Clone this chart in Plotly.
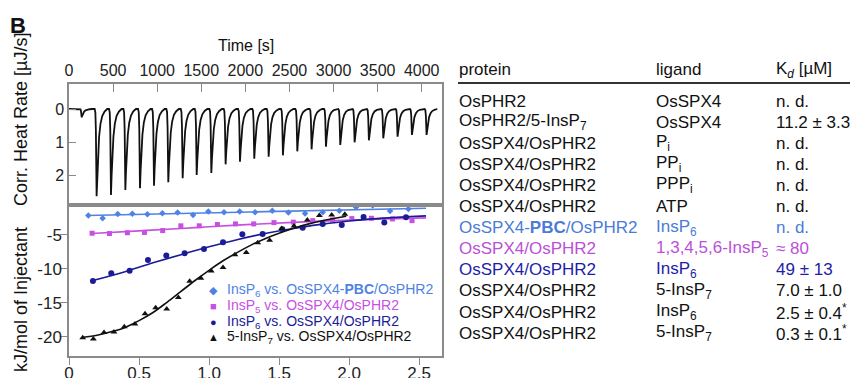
import plotly.graph_objects as go

W, H = 858, 378
OFF = 8  # page body margin offset of the figure in the browser window
def px(x):
    return (x - OFF) / W
def py(y):
    return 1 - (y - OFF) / H

FONT = "Liberation Sans, Arial, sans-serif"
LB = "#4f82e3"   # light blue
MG = "#c650e0"   # magenta
NV = "#1b1b96"   # navy
BK = "#111111"
AX = "#8a8a8a"

# ---------------- Thermogram (top panel) ----------------
inj_times = [313, 476, 639, 805, 964, 1126, 1289, 1448, 1614, 1776, 1939, 2101,
             2264, 2426, 2589, 2751, 2914, 3076, 3239, 3401, 3564, 3726, 3889, 4055]
inj_depths = [2.62, 2.58, 2.43, 2.38, 2.30, 2.20, 2.08, 1.98, 1.92, 1.66, 1.58, 1.49,
              1.43, 1.39, 1.27, 1.21, 1.13, 1.08, 1.00, 0.94, 0.88, 0.83, 0.78, 0.78]
pre_inj_time = 144
pre_inj_depth = 0.25
trace_start, trace_end = 0, 4170
time_ticks = [0, 500, 1000, 1500, 2000, 2500, 3000, 3500, 4000]
heat_ticks = [0, 1, 2]

# injection peak profile (time offset in s, fraction of peak depth)
PEAK_PROFILE = [(-22, 0.0), (-14, 0.04), (-8, 0.25), (0, 1.0), (7, 0.78), (16, 0.52),
                (28, 0.32), (44, 0.17), (64, 0.08), (90, 0.03), (120, 0.0)]

tx, ty = [trace_start], [0.0]
for t0, d in [(pre_inj_time, pre_inj_depth)] + list(zip(inj_times, inj_depths)):
    for dt, f in PEAK_PROFILE:
        tx.append(t0 + dt)
        ty.append(d * f)
tx.append(trace_end)
ty.append(0.0)

# ---------------- Integrated heats (bottom panel) ----------------
pbc_x = [0.138, 0.240, 0.348, 0.452, 0.560, 0.667, 0.776, 0.886, 0.995, 1.107, 1.219,
         1.329, 1.452, 1.567, 1.686, 1.812, 1.931, 2.050, 2.169, 2.293, 2.424]
pbc_y = [-2.16, -2.54, -1.91, -1.87, -1.96, -1.81, -1.72, -2.06, -1.57, -1.66, -1.57,
         -1.66, -1.43, -1.72, -1.85, -1.66, -1.43, -0.92, -0.69, -1.47, -1.18]
pbc_fit_x = [0.13, 1.3, 2.55]
pbc_fit_y = [-2.15, -1.62, -1.08]

ip5_x = [0.165, 0.289, 0.417, 0.539, 0.669, 0.799, 0.930, 1.060, 1.189, 1.319,
         1.464, 1.602, 1.741, 1.883, 2.020, 2.160, 2.310, 2.450]
ip5_y = [-4.75, -4.80, -4.68, -4.63, -4.36, -3.66, -3.66, -3.46, -3.38, -3.38,
         -3.19, -3.12, -2.90, -2.80, -2.60, -2.55, -2.65, -2.90]
ip5_fit_x = [0.16, 0.5, 0.8, 1.0, 1.3, 1.6, 1.9, 2.2, 2.55]
ip5_fit_y = [-4.8, -4.4, -4.05, -3.8, -3.45, -3.15, -2.9, -2.7, -2.5]

ip6_x = [0.171, 0.302, 0.433, 0.564, 0.695, 0.826, 0.964, 1.100, 1.238,
         1.383, 1.524, 1.669, 1.812, 1.948, 2.104, 2.252, 2.407]
ip6_y = [-11.76, -10.64, -10.25, -8.68, -8.04, -7.69, -7.06, -6.08, -4.90,
         -4.85, -4.16, -3.93, -3.38, -3.53, -2.35, -3.19, -2.40]
ip6_fit_x = [0.17, 0.4, 0.6, 0.8, 1.0, 1.2, 1.4, 1.6, 1.8, 2.0, 2.2, 2.4, 2.55]
ip6_fit_y = [-11.7, -10.4, -9.1, -7.9, -6.75, -5.7, -4.8, -4.05, -3.45, -2.95, -2.6, -2.35, -2.2]

ip7_x = [0.098, 0.174, 0.250, 0.321, 0.395, 0.471, 0.543, 0.619, 0.698, 0.781, 0.862, 0.942,
         1.016, 1.100, 1.185, 1.266, 1.348, 1.433, 1.519, 1.607, 1.702, 1.788, 1.876, 1.970]
ip7_y = [-20.1, -20.3, -19.36, -19.26, -18.5, -18.1, -16.6, -15.7, -15.9, -14.2, -11.8, -11.37,
         -10.3, -9.8, -7.9, -7.6, -6.15, -5.8, -4.05, -3.68, -2.79, -2.16, -2.06, -1.96]
ip7_fit_x = [0.1, 0.2, 0.3, 0.4, 0.5, 0.6, 0.7, 0.8, 0.9, 1.0, 1.1, 1.2, 1.3, 1.4,
             1.5, 1.6, 1.7, 1.8, 1.9, 1.98]
ip7_fit_y = [-20.05, -19.75, -19.25, -18.6, -17.6, -16.4, -14.9, -13.3, -11.7, -10.2,
             -8.8, -7.6, -6.5, -5.55, -4.75, -4.05, -3.45, -2.95, -2.55, -2.25]

ratio_ticks = [0, 0.5, 1.0, 1.5, 2.0, 2.5]
ratio_ticktext = ["0", "0.5", "1.0", "1.5", "2.0", "2.5"]
kj_ticks = [-5, -10, -15, -20]
kj_ticktext = ["-5", "-10", "-15", "-20"]

legend_labels = [
    "InsP<sub>6</sub> vs. OsSPX4-<b>PBC</b>/OsPHR2",
    "InsP<sub>5</sub> vs. OsSPX4/OsPHR2",
    "InsP<sub>6</sub> vs. OsSPX4/OsPHR2",
    "5-InsP<sub>7</sub> vs. OsSPX4/OsPHR2",
]
legend_symbols = ["◆", "■", "●", "▲"]
legend_colors = [LB, MG, NV, BK]

# ---------------- Table ----------------
table_header = ["protein", "ligand", "K<sub><i>d</i></sub> [µM]"]
table_protein = ["OsPHR2", "OsPHR2/5-InsP<sub>7</sub>", "OsSPX4/OsPHR2", "OsSPX4/OsPHR2",
                 "OsSPX4/OsPHR2", "OsSPX4/OsPHR2", "OsSPX4-<b>PBC</b>/OsPHR2", "OsSPX4/OsPHR2",
                 "OsSPX4/OsPHR2", "OsSPX4/OsPHR2", "OsSPX4/OsPHR2", "OsSPX4/OsPHR2"]
table_ligand = ["OsSPX4", "OsSPX4", "P<sub>i</sub>", "PP<sub>i</sub>", "PPP<sub>i</sub>", "ATP",
                "InsP<sub>6</sub>", "1,3,4,5,6-InsP<sub>5</sub>", "InsP<sub>6</sub>",
                "5-InsP<sub>7</sub>", "InsP<sub>6</sub>", "5-InsP<sub>7</sub>"]
table_kd = ["n. d.", "11.2 ± 3.3", "n. d.", "n. d.", "n. d.", "n. d.", "n. d.", "≈ 80",
            "49 ± 13", "7.0 ± 1.0", "2.5 ± 0.4<sup>*</sup>", "0.3 ± 0.1<sup>*</sup>"]
table_colors = [BK, BK, BK, BK, BK, BK, "#4a7bd8", "#bb4fd8", "#1d1da8", BK, BK, BK]

fig = go.Figure()

fig.add_trace(go.Scatter(x=tx, y=ty, mode="lines", line=dict(color=BK, width=1.8),
                         xaxis="x2", yaxis="y2", showlegend=False, hoverinfo="skip"))

def add_series(x, y, fx, fy, color, symbol, size):
    fig.add_trace(go.Scatter(x=fx, y=fy, mode="lines", line=dict(color=color, width=1.6, shape="spline"),
                             xaxis="x", yaxis="y", showlegend=False))
    fig.add_trace(go.Scatter(x=x, y=y, mode="markers", marker=dict(color=color, symbol=symbol, size=size),
                             xaxis="x", yaxis="y", showlegend=False))

add_series(pbc_x, pbc_y, pbc_fit_x, pbc_fit_y, LB, "diamond", 5)
add_series(ip5_x, ip5_y, ip5_fit_x, ip5_fit_y, MG, "square", 5)
add_series(ip6_x, ip6_y, ip6_fit_x, ip6_fit_y, NV, "circle", 6)
add_series(ip7_x, ip7_y, ip7_fit_x, ip7_fit_y, BK, "triangle-up", 6)

XDOM = [px(69), px(442)]
tickfont = dict(family=FONT, size=16, color="#222")
tickfont_big = dict(family=FONT, size=17, color="#222")

fig.update_layout(
    width=W, height=H, margin=dict(l=0, r=0, t=0, b=0, autoexpand=False),
    paper_bgcolor="white", plot_bgcolor="white", showlegend=False,
    xaxis=dict(domain=XDOM, range=[0, 2.664], anchor="y", tickvals=ratio_ticks, ticktext=ratio_ticktext,
               ticks="outside", ticklen=7, tickcolor=AX, showline=True, linecolor=AX, linewidth=1.5,
               mirror=True, showgrid=False, zeroline=False, tickfont=tickfont_big, automargin=False,
               ticklabelstandoff=-6),
    yaxis=dict(domain=[py(356), py(205)], range=[-22.8, -0.6], anchor="x", tickvals=kj_ticks,
               ticktext=kj_ticktext, ticks="outside", ticklen=7, tickcolor=AX, showline=True,
               linecolor=AX, linewidth=1.5, mirror=True, showgrid=False, zeroline=False, tickfont=tickfont_big,
               automargin=False, ticklabelstandoff=-5),
    xaxis2=dict(domain=XDOM, range=[0, 4230], anchor="y2", side="top", tickvals=time_ticks,
                ticks="inside", ticklen=8, tickcolor=AX, showline=True, linecolor=AX, linewidth=1.5,
                mirror=True, showgrid=False, zeroline=False, tickfont=tickfont, automargin=False),
    yaxis2=dict(domain=[py(205), py(84)], range=[2.88, -0.75], anchor="x2", tickvals=heat_ticks,
                ticks="inside", ticklen=7, tickcolor=AX, showline=True, linecolor=AX, linewidth=1.5,
                mirror=True, showgrid=False, zeroline=False, tickfont=tickfont, automargin=False),
)

ann = []
def A(x, y, text, size=17, color=BK, xanchor="left", angle=0):
    ann.append(dict(x=px(x), y=py(y), xref="paper", yref="paper", text=text, showarrow=False,
                    xanchor=xanchor, yanchor="middle", textangle=angle, borderpad=0,
                    font=dict(family=FONT, size=size, color=color)))

A(18, 25, "<b>B</b>", size=22, xanchor="center")
A(246, 45, "Time [s]", size=16, xanchor="center")
A(21, 120, "Corr. Heat Rate [µJ/s]", size=18, xanchor="center", angle=-90)
A(21, 300, "kJ/mol of Injectant", size=18, xanchor="center", angle=-90)

leg_y = [290, 306, 322, 337]
for yv, sym, lab, col in zip(leg_y, legend_symbols, legend_labels, legend_colors):
    A(213, yv, sym, size=11, color=col, xanchor="center")
    A(226, yv, lab, size=14, color=col)

A(458, 70, table_header[0])
A(655, 70, table_header[1])
A(775, 70, table_header[2])
for i in range(len(table_protein)):
    yv = 101 + 21.1 * i
    A(458, yv, table_protein[i], color=table_colors[i])
    A(655, yv, table_ligand[i], color=table_colors[i])
    A(775, yv, table_kd[i], color=table_colors[i])

fig.update_layout(annotations=ann)
fig.add_shape(type="line", xref="paper", yref="paper", x0=px(458), x1=px(858), y0=py(83), y1=py(83),
              line=dict(color="#333", width=2))

fig.write_html("out.html")
